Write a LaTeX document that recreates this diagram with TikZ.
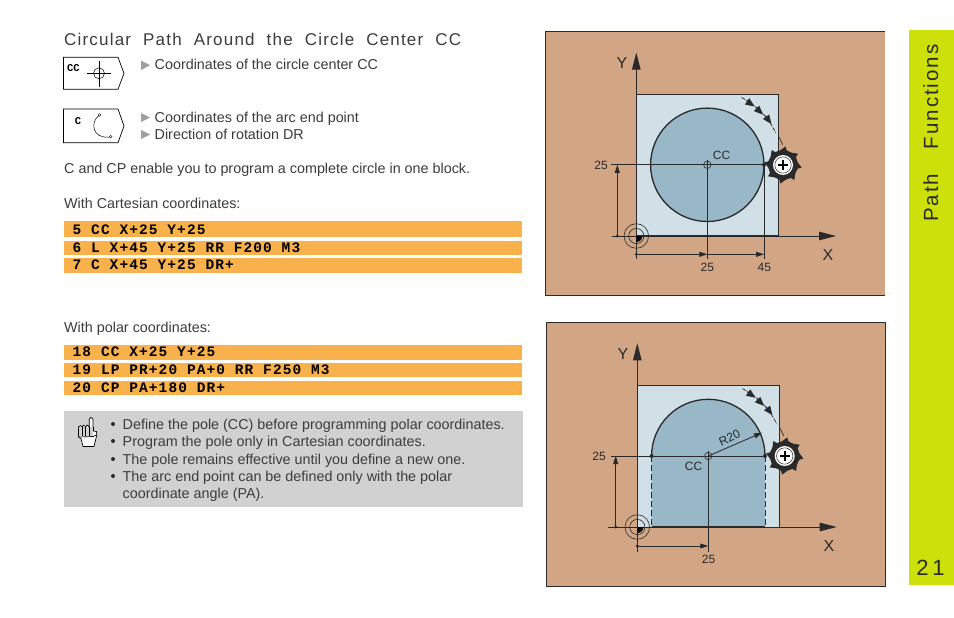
\documentclass[tikz,border=0pt]{standalone}
\usepackage{fontspec}
\setmainfont{Liberation Sans}
\setmonofont{Liberation Mono}
\newfontfamily\codefont[LetterSpace=7.6]{Liberation Mono}
\newfontfamily\titlefont[LetterSpace=7]{Liberation Sans}
\newfontfamily\bandfont[LetterSpace=9.5]{Liberation Sans}
\newfontfamily\numfont[LetterSpace=17]{Liberation Sans}
\usetikzlibrary{arrows.meta,calc}
\definecolor{panelbg}{HTML}{D2A684}
\definecolor{lightblue}{HTML}{D1E0E7}
\definecolor{darkblue}{HTML}{98B7C7}
\definecolor{barcol}{HTML}{F9B24B}
\definecolor{bandcol}{HTML}{CDE00A}
\definecolor{notebg}{HTML}{D1D1D1}
\definecolor{ink}{HTML}{2A2A2A}
\definecolor{bodytxt}{HTML}{3C3C3C}
\tikzset{
  bodytext/.style={anchor=base west,inner sep=0pt,text=bodytxt,font=\fontsize{14.35}{16}\selectfont},
  titletext/.style={anchor=base west,inner sep=0pt,text=bodytxt,font=\fontsize{17}{19}\selectfont\titlefont},
  codetext/.style={anchor=base west,inner sep=0pt,text=black,font=\fontsize{14.5}{16}\selectfont\codefont\bfseries},
  dimtext/.style={inner sep=0pt,text=ink,font=\fontsize{12}{14}\selectfont},
  axistext/.style={inner sep=0pt,text=ink,font=\fontsize{16}{18}\selectfont},
  thinline/.style={draw=ink,line width=0.8pt},
  axisline/.style={draw=ink,line width=0.9pt,-{Triangle[length=17pt,width=8.5pt]}},
  dimarrow/.style={draw=ink,line width=0.8pt,-{Triangle[length=8pt,width=5pt]}},
  patharrow/.style={draw=ink,line width=0.6pt,-{Triangle[length=9pt,width=7.5pt]}},
  barfill/.style={fill=barcol,draw=none},
  softkey/.style={draw=black,line width=0.7pt,fill=white},
  softtext/.style={inner sep=0pt,text=black,font=\fontsize{10.5}{12}\selectfont\ttfamily\bfseries},
  bullettri/.style={fill=gray!75,draw=none},
}
\newcommand{\cutter}[1]{%
  \begin{scope}[shift={(#1)}]
    \fill[ink] (0,0) circle[radius=14.8];
    \foreach \a in {0,45,...,315}{
      \fill[ink] (\a-20:14) -- (\a+8:18.8) -- (\a+13:15.5) -- (\a+24:14) -- cycle;
    }
    \fill[white] (0,0) circle[radius=10];
    \draw[ink,line width=0.5pt] (0,0) circle[radius=8.2];
    \draw[black,line width=1.8pt] (-4.8,0) -- (4.8,0) (0,-4.8) -- (0,4.8);
  \end{scope}}
\newcommand{\pole}[1]{%
  \fill[black] (#1) -- +(6,0) arc[start angle=0,end angle=90,radius=6] -- cycle;
  \draw[ink,line width=0.6pt] (#1) circle[radius=7.6];
  \draw[ink,line width=0.6pt] (#1) circle[radius=12.3];}
\newcommand{\patharc}[1]{%
  \draw[ink,line width=0.7pt,dash pattern=on 4pt off 1.5pt] ([shift={(-63:75.5)}]#1) arc[start angle=-63,end angle=-25,radius=75.5];
  \draw[ink,line width=0.7pt] ([shift={(-21:77)}]#1) -- ([shift={(-15:78)}]#1);
  \draw[patharrow] ([shift={(-59:75)}]#1) -- ([shift={(-51:75)}]#1);
  \draw[patharrow] ([shift={(-50:75)}]#1) -- ([shift={(-42:75)}]#1);
  \draw[patharrow] ([shift={(-40.5:76)}]#1) -- ([shift={(-32.5:76)}]#1);}
\begin{document}
\begin{tikzpicture}[x=1pt,y=-1pt]
\useasboundingbox (0,0) rectangle (954,618);
\fill[white] (0,0) rectangle (954,618);
% ---------- band
\fill[bandcol] (909,30) rectangle (954,585);
\node[inner sep=0pt,anchor=base west,rotate=90,text=ink,font=\fontsize{20.5}{23}\selectfont\bandfont] (bandtitle) at (938,222) {Path\hspace{17pt} Functions};
\node[inner sep=0pt,text=ink,font=\fontsize{22}{24}\selectfont\numfont] (pagenum) at (930.5,568) {21};
% ---------- left column
\node[titletext] (title) at (64,45.7) {Circular\hspace{6.2pt} Path\hspace{6.2pt} Around\hspace{6.2pt} the\hspace{6.2pt} Circle\hspace{6.2pt} Center\hspace{6.2pt} CC};
% softkey CC
\draw[softkey] (63.5,57.3) -- (118,57.3) -- (124,73.3) -- (118,89.3) -- (63.5,89.3) -- cycle;
\node[softtext] (skcc) at (73.5,68.5) {CC};
\draw[black,line width=0.5pt] (87,73.3) -- (111,73.3);
\draw[black,line width=0.7pt] (99,61) -- (99,87);
\draw[black,line width=0.5pt] (99,73.3) circle[radius=5.5];
% softkey C
\draw[softkey] (63.5,109) -- (118,109) -- (124,126) -- (118,142.7) -- (63.5,142.7) -- cycle;
\node[softtext] (skc) at (78,121) {C};
\draw[black,line width=0.5pt] (99,115.5) .. controls (90,122) and (92,139) .. (109.5,137);
\draw[black,line width=0.4pt,fill=white] (99.5,115) circle[radius=1.3];
\draw[black,line width=0.4pt,fill=white] (110.7,136.7) circle[radius=1.3];
% bullet triangles and text
\fill[bullettri] (141,60.5) -- (150,65.2) -- (141,70) -- cycle;
\fill[bullettri] (141,113) -- (150,117.6) -- (141,122) -- cycle;
\fill[bullettri] (141,130) -- (150,134.5) -- (141,139) -- cycle;
\node[bodytext] (t1) at (154.5,69.6) {Coordinates of the circle center CC};
\node[bodytext] (t2) at (154.5,122.2) {Coordinates of the arc end point};
\node[bodytext] (t3) at (154.5,139.5) {Direction of rotation DR};
\node[bodytext] (t4) at (64,173) {C and CP enable you to program a complete circle in one block.};
\node[bodytext] (t5) at (64,208) {With Cartesian coordinates:};
\node[bodytext] (t6) at (64,332) {With polar coordinates:};
% code bars
\fill[barfill] (64,221) rectangle (522,237);
\fill[barfill] (64,241) rectangle (522,255);
\fill[barfill] (64,258) rectangle (522,273);
\fill[barfill] (64,345) rectangle (522,360);
\fill[barfill] (64,363) rectangle (522,377);
\fill[barfill] (64,381) rectangle (522,395);
\node[codetext] (c1) at (72.5,234) {5 CC X+25 Y+25};
\node[codetext] (c2) at (72.5,252) {6 L X+45 Y+25 RR F200 M3};
\node[codetext] (c3) at (72.5,269) {7 C X+45 Y+25 DR+};
\node[codetext] (c4) at (72.5,356) {18 CC X+25 Y+25};
\node[codetext] (c5) at (72.5,374) {19 LP PR+20 PA+0 RR F250 M3};
\node[codetext] (c6) at (72.5,392) {20 CP PA+180 DR+};
% note box
\fill[notebg] (64,411) rectangle (523,507);
\foreach \yy in {424,441,459,476}{\fill[ink] (113,\yy) circle[radius=2];}
\node[bodytext] (n1) at (122.5,429) {Define the pole (CC) before programming polar coordinates.};
\node[bodytext] (n2) at (122.5,446) {Program the pole only in Cartesian coordinates.};
\node[bodytext] (n3) at (122.5,464) {The pole remains effective until you define a new one.};
\node[bodytext] (n4) at (122.5,481.5) {The arc end point can be defined only with the polar};
\node[bodytext] (n5) at (122.5,498.5) {coordinate angle (PA).};
% hand icon
\draw[black,line width=0.7pt,fill=white,line join=round]
  (78.5,437) -- (78.5,427) -- (80.5,425.5) -- (82,427) -- (83.5,425) -- (85.5,427) -- (87,425) -- (89.3,427)
  -- (89.3,419) -- (91,417.3) -- (93,419) -- (93,431) -- (96.5,431.5) -- (96.8,435) -- (94,446.5) -- (83,446.5) -- (81,438.5) -- cycle;
\fill[notebg] (79,427) rectangle (92.5,436);
\draw[black,line width=0.7pt] (78.5,427) -- (78.5,437) (82,427) -- (82,436) (85.5,427) -- (85.5,436) (89.3,427) -- (89.3,436) (93,427) -- (93,431);
\draw[black,line width=0.7pt] (79,437) -- (93,436.5) -- (96.5,435);
% ---------- diagram 1
\fill[panelbg] (545.3,31) rectangle (885,295);
\draw[ink,line width=0.8pt] (885,295.3) -- (545.3,295.3) -- (545.3,31) -- (885,31);
\coordinate (o1) at (636.3,236);
\coordinate (cc1) at (707.3,164.8);
\coordinate (e1) at (764,164.8);
\fill[lightblue] (636.3,94.3) rectangle (778.7,236);
\draw[ink,line width=1pt] (636.3,94.3) -- (778.7,94.3) -- (778.7,236);
\fill[darkblue] (cc1) circle[radius=56.7];
\draw[ink,line width=1.3pt] (cc1) circle[radius=56.7];
\patharc{cc1}
\draw[axisline] (636.3,259) -- (636.3,52.7);
\draw[ink,line width=1.5pt] (636.3,236) -- (778.7,236);
\draw[axisline] (611.7,236) -- (836,236);
\draw[thinline] (611,164.8) -- (e1);
\draw[thinline] (707.3,160) -- (707.3,259);
\draw[thinline] (e1) -- (764,259);
\draw[ink,line width=0.6pt] (cc1) circle[radius=3.7];
\draw[dimarrow] (617.3,236) -- (617.3,164.8);
\draw[dimarrow] (636.3,254.3) -- (707.3,254.3);
\draw[dimarrow] (707.3,254.3) -- (764,254.3);
\fill[ink] (617.3,236) circle[radius=1.6];
\fill[ink] (636.3,254.3) circle[radius=1.6];
\pole{o1}
\cutter{783,165}
\fill[ink] (e1) circle[radius=2];
\node[axistext] (y1) at (622,63) {Y};
\node[axistext] (x1) at (828,254.5) {X};
\node[dimtext] (d1a) at (601,165) {25};
\node[dimtext] (d1b) at (707.3,267.5) {25};
\node[dimtext] (d1c) at (764.3,267.5) {45};
\node[dimtext] (d1d) at (721.5,155.5) {CC};
% ---------- diagram 2
\fill[panelbg] (546.3,322.3) rectangle (885.3,586);
\draw[ink,line width=0.8pt] (546.3,322.3) rectangle (885.3,586);
\coordinate (o2) at (637.3,527);
\coordinate (cc2) at (708.3,456);
\coordinate (e2) at (765,456);
\coordinate (w2) at (651.6,456);
\fill[lightblue] (637.3,385.3) rectangle (779.3,527);
\draw[ink,line width=0.8pt] (637.3,385.3) -- (779.3,385.3) -- (779.3,527);
\fill[darkblue] (651.6,527) -- (w2) arc[start angle=-180,end angle=0,radius=56.7] -- (765,527) -- cycle;
\draw[ink,line width=1.3pt] (w2) arc[start angle=-180,end angle=0,radius=56.7];
\draw[ink,line width=1pt,dash pattern=on 6pt off 3pt] (w2) -- (651.6,527);
\draw[ink,line width=1pt,dash pattern=on 6pt off 3pt] (e2) -- (765,527);
\patharc{cc2}
\draw[axisline] (637.3,551.7) -- (637.3,343.3);
\draw[ink,line width=1.3pt] (651.6,527) -- (765,527);
\draw[axisline] (607.7,527) -- (836.7,527);
\draw[thinline] (611,456) -- (e2);
\draw[thinline] (708.3,451) -- (708.3,551.7);
\draw[ink,line width=0.6pt] (cc2) circle[radius=3.7];
\draw[dimarrow] (615.7,527) -- (615.7,456);
\draw[dimarrow] (637.3,546) -- (708.3,546);
\coordinate (r2) at (762,432.7);
\draw[dimarrow] (cc2) -- (r2);
\fill[ink] (615.7,527) circle[radius=1.6];
\fill[ink] (637.3,546) circle[radius=1.6];
\fill[ink] (w2) circle[radius=2];
\pole{o2}
\cutter{784.7,456}
\fill[ink] (e2) circle[radius=2];
\node[axistext] (y2) at (623,354) {Y};
\node[axistext] (x2) at (829,545.5) {X};
\node[dimtext] (d2a) at (599,456) {25};
\node[dimtext] (d2b) at (708.5,559) {25};
\node[dimtext] (d2c) at (693.5,466.5) {CC};
\node[dimtext,rotate=25] (d2d) at (729.5,438) {R20};
\end{tikzpicture}
\end{document}
